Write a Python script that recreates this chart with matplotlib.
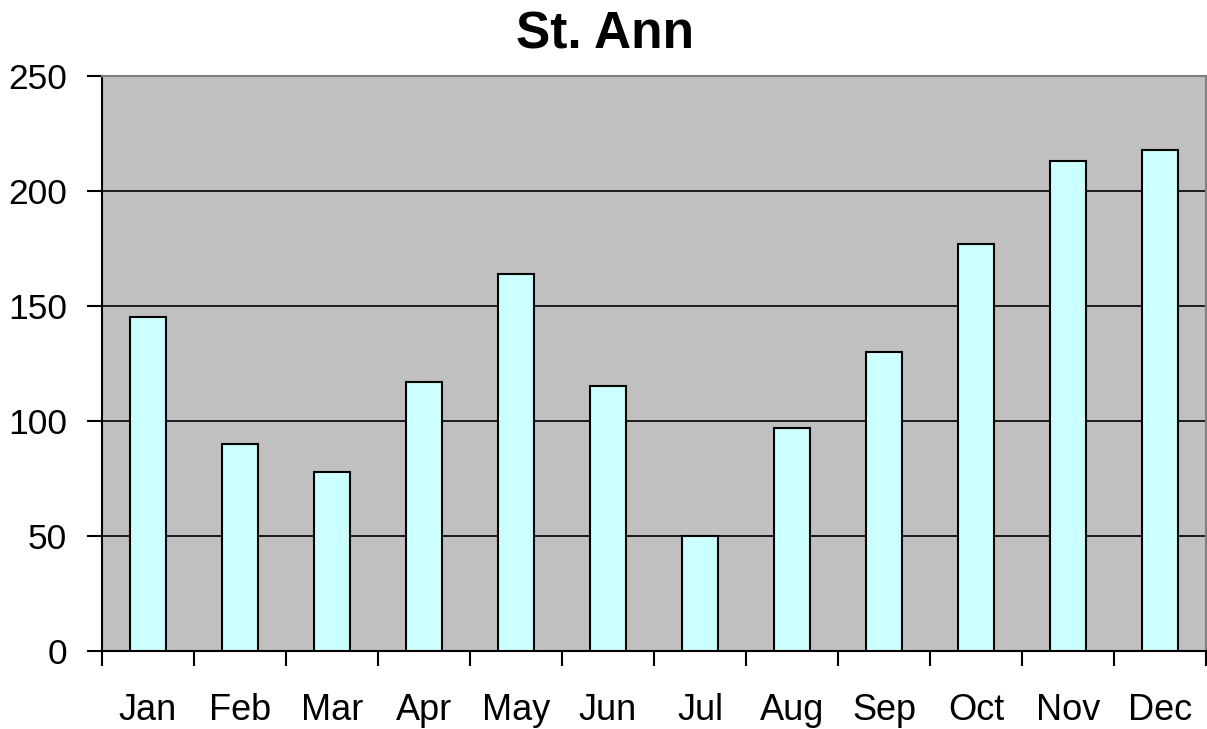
import matplotlib.pyplot as plt
import numpy as np

months = ['Jan', 'Feb', 'Mar', 'Apr', 'May', 'Jun', 'Jul', 'Aug', 'Sep', 'Oct', 'Nov', 'Dec']
values = [145, 90, 78, 117, 164, 115, 50, 97, 130, 177, 213, 218]
yticks = [0, 50, 100, 150, 200, 250]

plt.rcParams['font.family'] = ['Liberation Sans', 'DejaVu Sans']

fig = plt.figure(figsize=(12.07, 7.29), dpi=100)
ax = fig.add_axes([102 / 1207, 1 - 651 / 729, 1104 / 1207, 575 / 729])
ax.set_facecolor('#c0c0c0')

x = np.arange(len(months))
ax.bar(x, values, width=0.39, color='#ccffff', edgecolor='black', linewidth=1.5, zorder=3)

ax.set_xlim(-0.5, len(months) - 0.5)
ax.set_ylim(0, 250)
ax.set_yticks(yticks)
ax.set_yticklabels([str(v) for v in yticks], fontsize=25.5)
for v in yticks[1:-1]:
    ax.axhline(v, color='black', linewidth=1.2, zorder=2)

# category labels centered, ticks on category boundaries
ax.set_xticks(x)
ax.set_xticklabels(months, fontsize=26)
ax.tick_params(axis='x', which='major', length=0, pad=30)
ax.set_xticks(np.arange(-0.5, len(months)), minor=True)
ax.tick_params(axis='x', which='minor', length=11, width=1.5, direction='out')
ax.tick_params(axis='y', length=11, width=1.5, direction='out', pad=14)

for side in ['left', 'bottom']:
    ax.spines[side].set_linewidth(1.5)
    ax.spines[side].set_color('black')
for side in ['top', 'right']:
    ax.spines[side].set_color('#808080')
    ax.spines[side].set_linewidth(1.5)

fig.text(605 / 1207, 1 - 35 / 729, 'St. Ann', ha='center', va='center',
         fontsize=37, fontweight='bold')

fig.savefig('out.png', dpi=100)
